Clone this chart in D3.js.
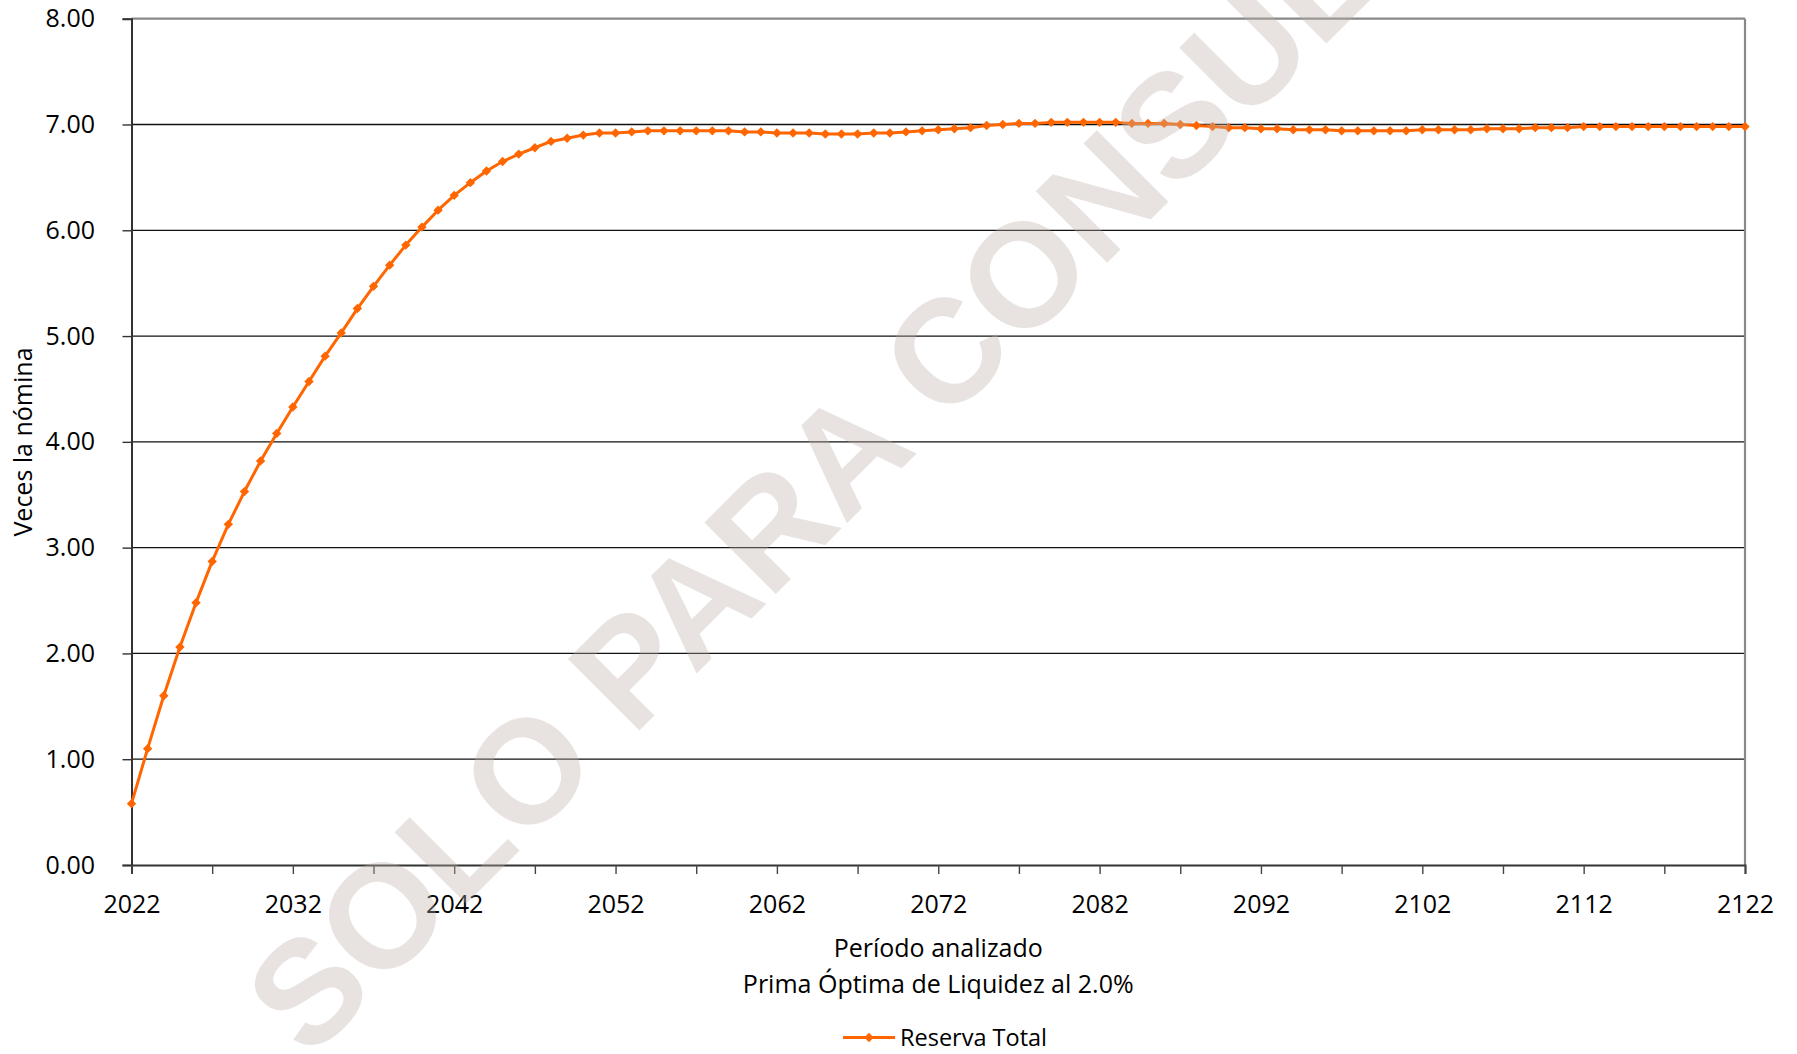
<!DOCTYPE html>
<html>
<head>
<meta charset="utf-8">
<script src="https://cdn.jsdelivr.net/npm/d3@7"></script>
<style>
  html, body { margin: 0; padding: 0; background: #fff; }
  svg { display: block; }
  text { font-family: "Open Sans", "Noto Sans", sans-serif; fill: #000; }
</style>
</head>
<body>
<svg id="chart" width="1797" height="1054"></svg>
<script>
// ---- data ----
const startYear = 2022;
const endYear = 2122;
const years = d3.range(startYear, endYear + 1);
const reservaTotal = [
  0.58, 1.10, 1.60, 2.06, 2.48, 2.87, 3.22, 3.53, 3.82, 4.08,
  4.33, 4.57, 4.81, 5.03, 5.26, 5.47, 5.67, 5.86, 6.03, 6.19,
  6.33, 6.45, 6.56, 6.65, 6.72, 6.78, 6.84, 6.87, 6.90, 6.92,
  6.92, 6.93, 6.94, 6.94, 6.94, 6.94, 6.94, 6.94, 6.93, 6.93,
  6.92, 6.92, 6.92, 6.91, 6.91, 6.91, 6.92, 6.92, 6.93, 6.94,
  6.95, 6.96, 6.97, 6.99, 7.00, 7.01, 7.01, 7.02, 7.02, 7.02,
  7.02, 7.02, 7.01, 7.01, 7.01, 7.00, 6.99, 6.98, 6.97, 6.97,
  6.96, 6.96, 6.95, 6.95, 6.95, 6.94, 6.94, 6.94, 6.94, 6.94,
  6.95, 6.95, 6.95, 6.95, 6.96, 6.96, 6.96, 6.97, 6.97, 6.97,
  6.98, 6.98, 6.98, 6.98, 6.98, 6.98, 6.98, 6.98, 6.98, 6.98,
  6.98
];
const yTicks = [0, 1, 2, 3, 4, 5, 6, 7, 8];
const xTickYears = d3.range(2022, 2123, 5);
const xLabelYears = [2022, 2032, 2042, 2052, 2062, 2072, 2082, 2092, 2102, 2112, 2122];
const seriesName = "Reserva Total";
const xTitle = "Período analizado";
const subTitle = "Prima Óptima de Liquidez al 2.0%";
const yTitle = "Veces la nómina";
const watermark = "SOLO PARA CONSULTA";

// ---- layout ----
const W = 1797, H = 1054;
const m = { left: 131.5, top: 18.7, right: 1797 - 1745, bottom: 1054 - 865 };
const pw = W - m.left - m.right, ph = H - m.top - m.bottom;
const orange = "#FF6600";
const FS = 25;

const svg = d3.select("#chart");
const g = svg.append("g").attr("transform", `translate(${m.left},${m.top})`);

const x = d3.scaleLinear().domain([startYear, endYear]).range([0, pw]);
const y = d3.scaleLinear().domain([0, 8]).range([ph, 0]);

// gridlines
g.append("g").selectAll("line").data(yTicks.filter(v => v > 0 && v < 8)).join("line")
  .attr("x1", 0).attr("x2", pw)
  .attr("y1", d => y(d)).attr("y2", d => y(d))
  .attr("stroke", "#111").attr("stroke-width", 1.3);

// top & right border
g.append("line").attr("x1", 0).attr("x2", pw).attr("y1", y(8)).attr("y2", y(8))
  .attr("stroke", "#888").attr("stroke-width", 2.2);
g.append("line").attr("x1", pw).attr("x2", pw).attr("y1", 0).attr("y2", ph)
  .attr("stroke", "#888").attr("stroke-width", 2.2);

// y axis
const yAxis = g.append("g").call(
  d3.axisLeft(y).tickValues(yTicks).tickSize(9).tickFormat(d3.format(".2f"))
);
yAxis.select(".domain").attr("stroke", "#333").attr("stroke-width", 2);
yAxis.selectAll(".tick line").attr("stroke", "#333").attr("stroke-width", 1.4);
yAxis.selectAll(".tick text").attr("x", -36.5).attr("font-size", FS)
  .style("font-family", '"Open Sans", "Noto Sans", sans-serif').attr("fill", "#000");

// x axis
const xAxis = g.append("g").attr("transform", `translate(0,${ph})`).call(
  d3.axisBottom(x).tickValues(xTickYears).tickSize(9)
    .tickFormat(d => xLabelYears.includes(d) ? String(d) : "")
);
xAxis.select(".domain").attr("stroke", "#333").attr("stroke-width", 2);
xAxis.selectAll(".tick line").attr("stroke", "#444").attr("stroke-width", 1.4);
xAxis.selectAll(".tick text").attr("y", 48).attr("dy", 0).attr("font-size", FS)
  .style("font-family", '"Open Sans", "Noto Sans", sans-serif').attr("fill", "#000");

// line
const line = d3.line().x((d, i) => x(years[i])).y(d => y(d));
g.append("path").datum(reservaTotal)
  .attr("fill", "none").attr("stroke", orange).attr("stroke-width", 3)
  .attr("stroke-linejoin", "round").attr("d", line);

const diamond = d3.symbol().type(d3.symbolSquare).size(44);
g.append("g").selectAll("path").data(reservaTotal).join("path")
  .attr("d", diamond)
  .attr("transform", (d, i) => `translate(${x(years[i])},${y(d)}) rotate(45)`)
  .attr("fill", orange);

// titles
svg.append("text").attr("x", m.left + pw / 2).attr("y", 956.5)
  .attr("text-anchor", "middle").attr("font-size", FS).text(xTitle);
svg.append("text").attr("x", m.left + pw / 2).attr("y", 992.5)
  .attr("text-anchor", "middle").attr("font-size", FS).text(subTitle);
svg.append("text")
  .attr("transform", `translate(32,442) rotate(-90)`)
  .attr("text-anchor", "middle").attr("font-size", FS).text(yTitle);

// legend
const lg = svg.append("g").attr("transform", "translate(843,1037.5)");
lg.append("line").attr("x1", 0).attr("x2", 52).attr("y1", 0).attr("y2", 0)
  .attr("stroke", orange).attr("stroke-width", 3);
lg.append("path").attr("d", diamond).attr("transform", "translate(26,0) rotate(45)").attr("fill", orange);
lg.append("text").attr("x", 57).attr("y", 8.5).attr("font-size", 23.5).text(seriesName);

// watermark
svg.append("text")
  .attr("transform", "translate(309,1061) rotate(-45)")
  .attr("text-anchor", "start")
  .attr("font-size", 147).attr("font-weight", "bold")
  .style("font-family", '"Liberation Sans", Arial, sans-serif')
  .style("fill", "rgb(190,178,168)").attr("opacity", 0.35)
  .text(watermark);
</script>
</body>
</html>
